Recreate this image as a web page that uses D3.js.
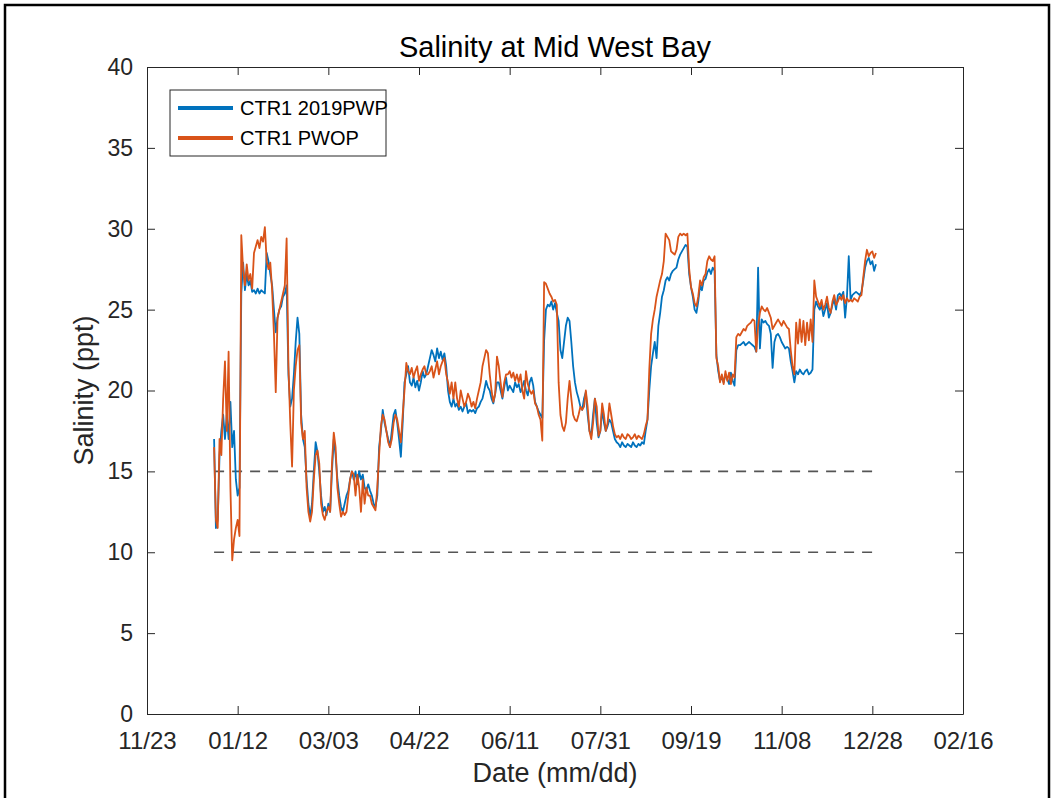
<!DOCTYPE html>
<html>
<head>
<meta charset="utf-8">
<script src="https://cdn.jsdelivr.net/npm/d3@7"></script>
<style>
  body { margin: 0; background: #fff; }
  svg { display: block; font-family: "Liberation Sans", Arial, sans-serif; }
</style>
</head>
<body>
<svg id="chart"></svg>
<script>
const width = 1056;
const height = 798;

// first day of both records, one value per day after that
const startDate = "2018-12-30";

const ctr1Pwp = [
  17.0, 11.5, 12.0, 16.0, 17.5, 18.5, 17.0, 18.5, 17.0, 19.3,
  16.5, 17.5, 14.5, 13.5, 14.0, 26.0, 27.9, 26.2, 27.2, 26.5,
  26.8, 26.1, 26.2, 26.0, 26.3, 26.0, 26.2, 26.1, 26.0, 28.5,
  28.0, 27.2, 26.5, 25.0, 23.6, 24.5, 25.0, 25.2, 25.8, 26.0,
  26.5, 21.0, 19.0, 19.5, 21.0, 23.0, 24.5, 23.5, 18.5, 17.0,
  16.5, 14.5, 13.0, 12.2, 13.0, 15.0, 16.8, 16.2, 15.0, 13.5,
  12.5, 12.8, 12.3, 13.0, 12.5, 15.0, 17.0, 16.0, 14.5, 13.5,
  12.8, 12.5, 13.0, 13.5, 13.8, 14.5, 15.0, 14.5, 15.0, 14.2,
  15.0, 14.5, 14.8, 14.0, 13.8, 14.2, 13.8, 13.5, 13.0, 12.8,
  13.5, 16.5, 17.5, 18.8, 18.0, 17.5, 17.0, 16.5, 17.5, 18.5,
  18.8, 18.0, 17.0, 15.9, 18.0, 20.5, 21.0, 21.5, 20.5, 20.3,
  20.8, 20.2, 20.6, 20.0, 20.5, 21.2, 20.8, 21.0, 21.5, 22.0,
  22.5, 22.2, 21.8, 22.6, 22.0, 22.4, 21.9, 22.3, 21.5, 20.0,
  19.3, 19.0, 19.5, 19.0, 19.2, 18.8, 19.0, 18.7, 19.0, 19.2,
  18.6, 18.8, 18.7, 18.8, 18.6, 18.9, 19.0, 19.3, 19.5, 20.0,
  20.6, 20.2, 20.0, 19.5, 19.2, 19.8, 20.5, 20.5, 20.0, 19.5,
  20.2, 20.8, 20.0, 20.3, 20.1, 19.9, 20.5, 20.2, 20.4, 19.9,
  20.2, 20.6, 20.0, 19.7, 20.5, 20.8, 20.3, 19.3, 19.0, 18.7,
  18.5, 18.3, 23.1, 25.0, 25.3, 25.2, 25.5, 25.0, 25.4, 24.8,
  24.3, 22.5, 22.0, 23.0, 24.0, 24.5, 24.3, 23.0, 21.5, 20.5,
  19.9, 19.5, 19.0, 18.8, 19.5, 19.9, 18.5, 17.5, 17.2, 18.5,
  19.5, 18.0, 17.1, 17.5, 18.8, 18.0, 17.5, 17.8, 18.2, 18.0,
  17.5, 17.0, 16.8, 16.7, 16.5, 16.8, 16.6, 16.5, 16.7, 16.6,
  16.5, 16.8, 16.6, 16.5, 16.7, 16.6, 16.8, 16.7, 17.5, 18.2,
  20.0, 21.5, 22.3, 23.0, 22.0, 24.0, 24.8, 25.8, 26.2, 26.8,
  27.0, 26.8, 27.2, 27.4, 27.5, 27.6, 28.1, 28.4, 28.6, 28.8,
  29.0, 28.9, 27.2, 26.4, 25.8, 25.0, 24.8, 25.5, 26.5, 26.2,
  26.8, 26.9, 27.3, 27.5, 27.2, 27.6, 27.4, 22.2, 21.2, 20.6,
  20.8, 20.5, 21.0, 20.7, 20.4, 21.1, 20.6, 20.3, 22.5, 22.8,
  22.8, 22.9, 23.0, 22.8, 22.9, 23.0, 22.9, 22.8, 22.7, 22.4,
  27.6, 22.6, 24.4, 24.2, 24.3, 24.1, 24.0, 23.5, 21.4, 23.0,
  23.4, 23.5, 23.3, 23.0, 22.8, 22.6, 22.7, 22.6, 21.8, 21.2,
  20.5, 21.2, 21.0, 21.3, 21.1, 21.0, 21.2, 21.3, 21.0, 21.1,
  21.3, 25.0, 25.5, 25.2, 25.0, 25.3, 24.6, 25.0, 25.4, 24.5,
  24.8, 25.3, 25.6, 25.0, 25.9, 26.0, 25.8, 26.1, 24.5, 25.8,
  28.3, 25.6, 25.9, 26.0, 26.1, 26.0, 25.9, 26.1, 26.8, 27.6,
  28.0, 28.2, 27.8, 28.0, 27.4, 27.8
];

const ctr1Pwop = [
  16.5, 12.0, 11.5, 17.0, 16.0, 19.5, 21.8, 17.5, 22.4, 14.0,
  9.5, 10.8, 11.5, 12.0, 11.0, 29.6, 27.5, 26.5, 27.8, 26.8,
  27.2, 26.3, 28.5, 28.9, 29.3, 28.8, 29.5, 29.2, 30.1, 28.0,
  27.5, 27.9, 26.2, 23.5, 19.9, 24.5, 25.0, 25.5, 26.0, 26.5,
  29.4, 21.5, 18.0, 15.3, 20.0, 21.5, 22.5, 22.8, 18.0, 17.0,
  17.5, 14.0, 12.5, 11.9, 12.5, 14.5, 16.0, 16.3, 15.5, 13.0,
  12.3, 12.0, 12.5, 12.8, 12.5, 15.5, 17.4, 16.5, 14.0, 13.0,
  12.2, 12.5, 12.3, 12.5, 13.5, 14.5, 15.0, 14.8, 13.5, 14.8,
  14.0, 12.5, 14.5, 13.0, 14.0, 13.5, 13.5, 13.0, 12.8, 12.6,
  14.0, 16.0, 17.8, 18.5, 18.2, 17.5, 16.8, 16.5, 17.0, 18.0,
  18.5, 18.2, 17.5, 16.8, 18.5, 20.0, 21.7, 21.2, 21.0, 21.4,
  20.8, 21.2, 21.5, 20.6, 21.0, 21.3, 21.5, 21.0, 21.0, 21.2,
  21.5, 20.8, 21.3, 21.8, 21.0, 21.5, 21.8, 22.0, 21.0, 20.5,
  19.8, 20.5, 19.5, 20.5, 19.5, 19.0, 20.0, 19.5, 19.0, 19.3,
  19.8, 19.5, 19.0, 19.3, 18.9, 19.5, 20.0, 20.5, 21.5, 22.0,
  22.5, 22.3, 21.0, 20.0, 19.3, 19.8, 22.1, 21.5, 20.5, 19.6,
  20.5, 21.0, 21.0, 21.2, 20.8, 21.1, 20.6, 21.0, 20.5, 21.0,
  20.0, 19.5, 21.2, 20.4, 20.0, 19.8, 20.0, 19.2, 19.0, 18.5,
  18.2, 16.9, 26.7, 26.6, 26.3, 26.0, 25.8, 25.5, 25.6, 25.3,
  20.5, 18.5, 17.8, 17.5, 18.0, 19.5, 20.6, 19.5, 18.5, 18.2,
  18.1, 18.5, 19.0, 18.8, 19.0, 20.0, 19.0, 17.5, 17.0, 18.0,
  19.5, 19.0, 17.2, 17.5, 19.2, 18.5, 17.5, 18.0, 19.2, 18.5,
  17.8, 17.3, 17.1, 17.2, 17.0, 17.3, 17.1, 17.0, 17.3, 17.2,
  17.0, 17.1, 17.3, 17.0, 17.2, 17.1, 17.0, 17.3, 17.8, 18.2,
  21.3, 23.5, 24.4, 25.0, 25.8, 26.3, 26.8, 27.2, 28.0, 29.7,
  29.5, 29.3, 28.6, 28.5, 28.4, 28.7, 29.5, 29.7, 29.6, 29.7,
  29.6, 29.7, 27.5, 26.4, 26.0, 25.4, 25.2, 25.8, 26.8, 26.5,
  27.0, 27.2, 28.0, 28.3, 28.1, 28.0, 28.3, 22.0, 21.5, 20.5,
  21.0, 20.4, 21.2, 20.6, 21.1, 20.4, 21.0, 20.8, 23.3, 23.5,
  23.4, 23.6, 23.8, 23.7, 24.0, 24.1, 24.2, 24.4, 24.3, 22.4,
  24.0, 24.8, 25.2, 25.0, 24.9, 25.1, 24.8, 24.5, 23.8, 24.0,
  24.2, 24.4, 24.2, 24.0, 24.3, 24.1, 23.9, 23.8, 22.5, 21.5,
  21.0, 24.2, 22.9, 24.4, 23.0, 24.3, 22.8, 24.2, 23.1, 24.4,
  23.0, 26.8, 25.8, 25.5, 25.2, 25.6, 25.0, 25.3, 25.8, 25.1,
  24.8, 25.5, 25.9, 25.3, 25.5, 25.8, 25.6, 25.9, 25.4, 25.7,
  25.5, 25.6, 25.5, 25.7, 25.6, 25.5, 25.8, 25.9, 27.0, 28.0,
  28.7, 28.3, 28.5, 28.6, 28.2, 28.5
];

const seriesNames = ["CTR1 2019PWP", "CTR1 PWOP"];
const seriesColors = ["#0072BD", "#D95319"];
const thresholds = [15, 10];

const xTickDates = ["2018-11-23", "2019-01-12", "2019-03-03", "2019-04-22", "2019-06-11",
                    "2019-07-31", "2019-09-19", "2019-11-08", "2019-12-28", "2020-02-16"];
const yTicks = [0, 5, 10, 15, 20, 25, 30, 35, 40];

const parse = d3.timeParse("%Y-%m-%d");
const fmt = d3.timeFormat("%m/%d");
const t0 = parse(startDate);
const tickDates = xTickDates.map(parse);

const toPoints = vals => vals.map((v, i) => ({date: d3.timeDay.offset(t0, i), value: v}));
const series = [toPoints(ctr1Pwp), toPoints(ctr1Pwop)];

const plot = {left: 147, right: 963, top: 67, bottom: 714};

const svg = d3.select('#chart').attr('width', width).attr('height', height);

// outer frame of the figure
svg.append('rect')
    .attr('x', 5).attr('y', 5)
    .attr('width', 1044).attr('height', 810)
    .attr('fill', 'none').attr('stroke', '#000').attr('stroke-width', 2.5);

const x = d3.scaleTime()
    .domain([tickDates[0], tickDates[tickDates.length - 1]])
    .range([plot.left, plot.right]);
const y = d3.scaleLinear().domain([0, 40]).range([plot.bottom, plot.top]);

// threshold dashes run over the span of the records
const lastDate = series[0][series[0].length - 1].date;
svg.append('g').selectAll('line')
    .data(thresholds)
    .enter().append('line')
    .attr('x1', x(t0)).attr('x2', x(lastDate))
    .attr('y1', d => y(d)).attr('y2', d => y(d))
    .attr('stroke', '#555')
    .attr('stroke-width', 1.6)
    .attr('stroke-dasharray', '10,8');

const line = d3.line().x(d => x(d.date)).y(d => y(d.value));

svg.append('g').selectAll('path')
    .data(series)
    .enter().append('path')
    .attr('d', line)
    .attr('fill', 'none')
    .attr('stroke', (d, i) => seriesColors[i])
    .attr('stroke-width', 1.8)
    .attr('stroke-linejoin', 'round');

// axes, matlab style: box with inward ticks on all four sides
const axisColor = '#262626';
const tickLen = 8;

const xAxis = svg.append('g')
    .attr('transform', `translate(0,${plot.bottom})`)
    .call(d3.axisBottom(x).tickValues(tickDates).tickFormat(fmt).tickSizeInner(-tickLen).tickSizeOuter(0));
const xTop = svg.append('g')
    .attr('transform', `translate(0,${plot.top})`)
    .call(d3.axisTop(x).tickValues(tickDates).tickFormat('').tickSizeInner(-tickLen).tickSizeOuter(0));
const yAxis = svg.append('g')
    .attr('transform', `translate(${plot.left},0)`)
    .call(d3.axisLeft(y).tickValues(yTicks).tickSizeInner(-tickLen).tickSizeOuter(0).tickPadding(14));
const yRight = svg.append('g')
    .attr('transform', `translate(${plot.right},0)`)
    .call(d3.axisRight(y).tickValues(yTicks).tickFormat('').tickSizeInner(-tickLen).tickSizeOuter(0));

[xAxis, xTop, yAxis, yRight].forEach(g => {
  g.select('.domain').attr('stroke', axisColor).attr('stroke-width', 1);
  g.selectAll('.tick line').attr('stroke', axisColor).attr('stroke-width', 1);
  g.selectAll('.tick text')
      .attr('fill', axisColor)
      .style('font-family', '"Liberation Sans", Arial, sans-serif');
});
yAxis.selectAll('.tick text').style('font-size', '23px');
xAxis.selectAll('.tick text').style('font-size', '24px').attr('y', 35).attr('dy', 0);

// title and axis labels
svg.append('text')
    .attr('x', (plot.left + plot.right) / 2).attr('y', 57)
    .attr('text-anchor', 'middle')
    .style('font-size', '29px').attr('fill', '#000')
    .text('Salinity at Mid West Bay');

svg.append('text')
    .attr('x', (plot.left + plot.right) / 2).attr('y', 782)
    .attr('text-anchor', 'middle')
    .style('font-size', '27px').attr('fill', axisColor)
    .text('Date (mm/dd)');

svg.append('text')
    .attr('transform', `translate(93,${(plot.top + plot.bottom) / 2}) rotate(-90)`)
    .attr('text-anchor', 'middle')
    .style('font-size', '27px').attr('fill', axisColor)
    .text('Salinity (ppt)');

// legend
const legend = svg.append('g').attr('transform', 'translate(170,90)');
legend.append('rect')
    .attr('width', 216).attr('height', 66)
    .attr('fill', '#fff').attr('stroke', axisColor).attr('stroke-width', 1);
seriesNames.forEach((name, i) => {
  const ly = 18 + i * 30;
  legend.append('line')
      .attr('x1', 8).attr('x2', 63).attr('y1', ly).attr('y2', ly)
      .attr('stroke', seriesColors[i]).attr('stroke-width', 4);
  legend.append('text')
      .attr('x', 70).attr('y', ly).attr('dy', '0.35em')
      .style('font-size', '20px').attr('fill', '#000')
      .text(name);
});
</script>
</body>
</html>
